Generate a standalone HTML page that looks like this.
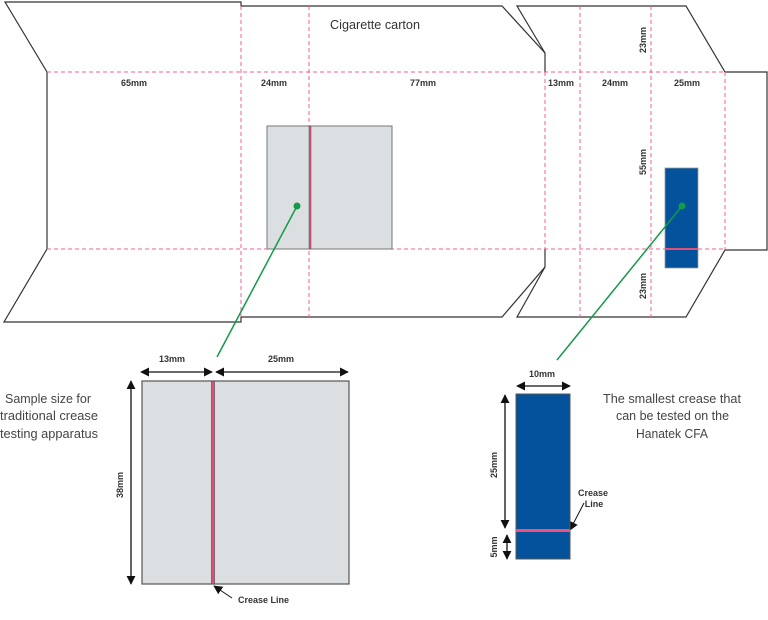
<!DOCTYPE html>
<html><head><style>
html,body{margin:0;padding:0;background:#fff;}
svg{display:block;font-family:"Liberation Sans",sans-serif;}
.l{font-size:9px;font-weight:bold;fill:#333;}
.t{font-size:13px;fill:#444;}
</style></head><body>
<svg width="768" height="620" viewBox="0 0 768 620" xmlns="http://www.w3.org/2000/svg">
<defs>
<marker id="a" viewBox="0 0 10 10" refX="9" refY="5" markerWidth="9" markerHeight="9" markerUnits="userSpaceOnUse" orient="auto-start-reverse"><path d="M0,0L10,5L0,10z" fill="#111"/></marker>
</defs>
<g fill="none" stroke="#333" stroke-width="1.2">
<polyline points="545,72 545,53 502,6 241,6 241,2 5,2 47,72 47,249 4,322 241,322 241,317 502,317 545,267 545,249"/>
<polyline points="545,53 517,6 686,6 725,72 767,72 767,250 725,250 686,317 517,317 545,267"/>
</g>
<g stroke="#f06090" stroke-width="1" stroke-dasharray="4,3" fill="none">
<line x1="47" y1="72" x2="725" y2="72"/>
<line x1="47" y1="249" x2="725" y2="249"/>
<line x1="241" y1="6" x2="241" y2="317"/>
<line x1="309" y1="6" x2="309" y2="317"/>
<line x1="580" y1="6" x2="580" y2="317"/>
<line x1="651" y1="6" x2="651" y2="317"/>
<line x1="545" y1="72" x2="545" y2="249"/>
<line x1="725" y1="72" x2="725" y2="249"/>
</g>
<text x="330" y="29" textLength="90" lengthAdjust="spacingAndGlyphs" style="font-size:13px;fill:#333;font-weight:500">Cigarette carton</text>
<text class="l" x="134" y="86" text-anchor="middle">65mm</text>
<text class="l" x="274" y="86" text-anchor="middle">24mm</text>
<text class="l" x="423" y="86" text-anchor="middle">77mm</text>
<text class="l" x="561" y="86" text-anchor="middle">13mm</text>
<text class="l" x="615" y="86" text-anchor="middle">24mm</text>
<text class="l" x="687" y="86" text-anchor="middle">25mm</text>
<text class="l" transform="translate(646,40) rotate(-90)" text-anchor="middle">23mm</text>
<text class="l" transform="translate(646,162) rotate(-90)" text-anchor="middle">55mm</text>
<text class="l" transform="translate(646,286) rotate(-90)" text-anchor="middle">23mm</text>
<rect x="267" y="126" width="125" height="123" fill="#dcdfe1" stroke="#777" stroke-width="1"/>
<rect x="309" y="126" width="2" height="123" fill="#e0507a" stroke="#555" stroke-width="0.5"/>
<rect x="665" y="168" width="33" height="100" fill="#03529b" stroke="#999" stroke-width="0.8"/>
<line x1="665" y1="249" x2="698" y2="249" stroke="#e0507a" stroke-width="2"/>
<g stroke="#149a4a" stroke-width="1.5">
<line x1="297" y1="206" x2="217" y2="357"/>
<line x1="682" y1="206" x2="557" y2="360"/>
</g>
<circle cx="297" cy="206" r="3.5" fill="#149a4a"/>
<circle cx="682" cy="206" r="3.5" fill="#149a4a"/>
<rect x="142" y="381" width="207" height="203" fill="#dcdfe1" stroke="#555" stroke-width="1.2"/>
<rect x="211.5" y="381" width="3" height="203" fill="#e0507a" stroke="#444" stroke-width="0.6"/>
<g stroke="#111" stroke-width="1.3" marker-start="url(#a)" marker-end="url(#a)">
<line x1="141" y1="372" x2="212" y2="372"/>
<line x1="216" y1="372" x2="348" y2="372"/>
<line x1="131" y1="381" x2="131" y2="584"/>
<line x1="517" y1="386" x2="570" y2="386"/>
<line x1="505" y1="395" x2="505" y2="528"/>
<line x1="507" y1="535" x2="507" y2="559"/>
</g>
<g stroke="#111" stroke-width="1" marker-end="url(#a)">
<line x1="232" y1="598" x2="214" y2="586"/>
<line x1="584" y1="503" x2="570" y2="530"/>
</g>
<text class="l" x="172" y="362" text-anchor="middle">13mm</text>
<text class="l" x="281" y="362" text-anchor="middle">25mm</text>
<text class="l" transform="translate(123,485) rotate(-90)" text-anchor="middle">38mm</text>
<text class="l" x="238" y="603">Crease Line</text>
<text class="t" x="5" y="403" textLength="86" lengthAdjust="spacingAndGlyphs">Sample size for</text>
<text class="t" x="0" y="420" textLength="98" lengthAdjust="spacingAndGlyphs">traditional crease</text>
<text class="t" x="0" y="438" textLength="98" lengthAdjust="spacingAndGlyphs">testing apparatus</text>
<rect x="516" y="394" width="54" height="165" fill="#03529b" stroke="#555" stroke-width="1"/>
<rect x="516" y="529" width="54" height="3" fill="#f0507a"/>
<text class="l" x="542" y="377" text-anchor="middle">10mm</text>
<text class="l" transform="translate(497,465) rotate(-90)" text-anchor="middle">25mm</text>
<text class="l" transform="translate(497,547) rotate(-90)" text-anchor="middle">5mm</text>
<text class="l" x="593" y="496" text-anchor="middle">Crease</text>
<text class="l" x="594" y="507" text-anchor="middle">Line</text>
<text class="t" x="603" y="403" textLength="138" lengthAdjust="spacingAndGlyphs">The smallest crease that</text>
<text class="t" x="616" y="420" textLength="113" lengthAdjust="spacingAndGlyphs">can be tested on the</text>
<text class="t" x="636" y="438" textLength="72" lengthAdjust="spacingAndGlyphs">Hanatek CFA</text>
</svg>
</body></html>
